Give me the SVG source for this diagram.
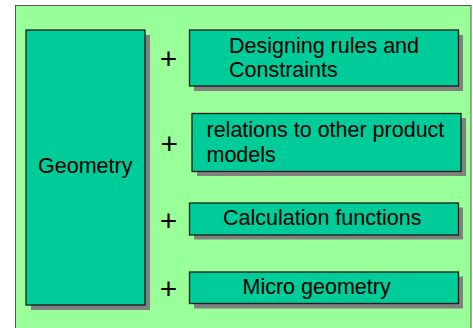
<svg xmlns="http://www.w3.org/2000/svg" width="473" height="328" viewBox="0 0 473 328">
<style>
.box{fill:#00CC99;stroke:#1a1a1a;stroke-width:1.3}
.sh{fill:#808080}
.t{font-family:"Liberation Sans",Arial,sans-serif;font-size:21.5px;fill:#000}
.p{font-family:"Liberation Sans",Arial,sans-serif;font-size:30px;fill:#000;text-anchor:middle}
</style>
<rect x="0" y="0" width="473" height="328" fill="#ffffff"/>
<rect x="15.5" y="5.5" width="455.5" height="330" fill="#99FF99" stroke="#555" stroke-width="1"/>
<g id="geometry">
<rect class="sh" x="31" y="35" width="119" height="275"/>
<rect class="box" x="26" y="30" width="119" height="275"/>
<text class="t" x="38" y="173">Geometry</text>
</g>
<g id="designing">
<rect class="sh" x="194" y="35" width="269" height="56"/>
<rect class="box" x="189.5" y="30" width="269" height="56"/>
<text class="t" x="229" y="52.5">Designing rules and</text>
<text class="t" x="229" y="77">Constraints</text>
</g>
<g id="relations">
<rect class="sh" x="197" y="118" width="269" height="58"/>
<rect class="box" x="192" y="113.5" width="269" height="58"/>
<text class="t" x="206.5" y="136.5">relations to other product</text>
<text class="t" x="206.5" y="161.5">models</text>
</g>
<g id="calculation">
<rect class="sh" x="194" y="207.5" width="269" height="32"/>
<rect class="box" x="189.5" y="203" width="269" height="32"/>
<text class="t" x="223" y="225">Calculation functions</text>
</g>
<g id="micro">
<rect class="sh" x="194" y="276.5" width="269" height="32"/>
<rect class="box" x="189.5" y="272" width="269" height="31.5"/>
<text class="t" x="242.5" y="293.5">Micro geometry</text>
</g>
<g id="connectors">
<text class="p" x="168.5" y="68.5">+</text>
<text class="p" x="169.3" y="153.5">+</text>
<text class="p" x="168.5" y="230.5">+</text>
<text class="p" x="168.5" y="298.5">+</text>
</g>
</svg>
